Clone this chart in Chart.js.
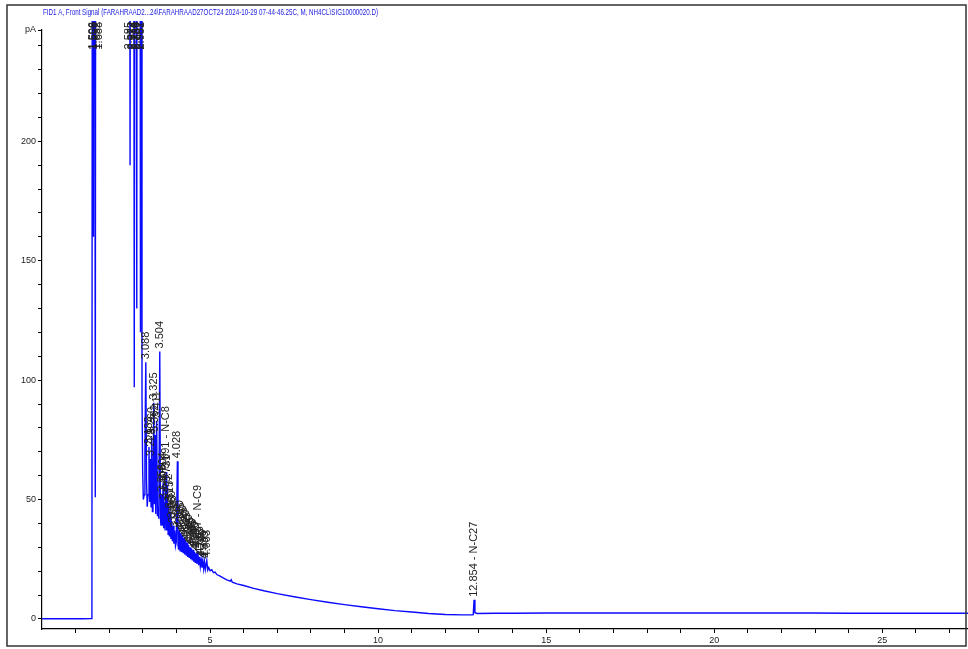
<!DOCTYPE html>
<html>
<head>
<meta charset="utf-8">
<title>FID1 A, Front Signal</title>
<script src="https://cdn.jsdelivr.net/npm/chart.js@4.4.1/dist/chart.umd.min.js"></script>
<style>
  html, body { margin: 0; padding: 0; background: #ffffff; }
  #wrap { width: 968px; height: 649px; }
</style>
</head>
<body>
<div id="wrap"><canvas id="chart" width="968" height="649"></canvas></div>
<script>
// Retention time (min) of every sampled point of the FID trace
const times = [
  0.00, 0.30, 0.60, 0.90, 1.20, 1.47, 1.485,
  1.506, 1.530, 1.559, 1.585, 1.610, 1.632, 1.688,
  2.000, 2.400, 2.585, 2.620, 2.650, 2.672, 2.714, 2.745, 2.775, 2.796, 2.820,
  2.839, 2.870, 2.902, 2.930, 2.951, 2.975, 2.995, 3.015, 3.040, 3.062,
  3.088, 3.110, 3.130, 3.155, 3.183, 3.205, 3.229, 3.245, 3.260, 3.285, 3.302,
  3.325, 3.345, 3.362, 3.385, 3.411, 3.435, 3.455, 3.475, 3.504, 3.525, 3.540,
  3.558, 3.578, 3.604, 3.622, 3.640, 3.662, 3.691, 3.710, 3.731, 3.752, 3.772,
  3.792, 3.815, 3.835, 3.860, 3.880, 3.905, 3.925, 3.950, 3.972, 3.995, 4.028,
  4.046, 4.065, 4.090, 4.110, 4.135, 4.155, 4.180, 4.200, 4.225, 4.245, 4.270,
  4.290, 4.315, 4.335, 4.360, 4.380, 4.405, 4.425, 4.450, 4.470, 4.495, 4.515,
  4.540, 4.560, 4.585, 4.610, 4.637, 4.660, 4.685, 4.710, 4.735, 4.760, 4.785,
  4.810, 4.835, 4.860, 4.903, 4.930, 4.960, 5.000, 5.050, 5.100, 5.150, 5.200,
  5.300, 5.400, 5.500, 5.600, 5.630, 5.660, 5.800, 6.000, 6.300, 6.600, 7.000,
  7.500, 8.000, 8.500, 9.000, 9.500, 10.000, 10.500, 11.000, 11.500, 12.000,
  12.500, 12.800, 12.830, 12.854, 12.880, 12.950, 13.500, 14.000, 15.000,
  16.000, 17.000, 18.000, 19.000, 20.000, 21.000, 22.000, 23.000, 24.000,
  25.000, 26.000, 27.000, 27.550
];

// Detector response (pA) at each of those times; solvent peaks run far off scale
const signal = [
  0.1, 0.1, 0.1, 0.1, 0.1, 0.2, 0.5,
  600, 160, 600, 51, 600, 600, 600,
  600, 600, 600, 190, 600, 600, 600, 97, 600, 600, 130,
  600, 600, 600, 120, 600, 93, 62, 50, 52, 70,
  107.5, 58, 47, 52, 72, 49, 67, 47, 76, 45, 51,
  90.5, 48, 77, 44, 83, 43, 47, 42, 112, 42, 39,
  52, 39, 57, 38, 49, 37, 61.5, 37, 56, 35.5, 48,
  34.5, 45, 33.5, 41, 32.5, 39, 31.5, 37, 30.5, 32, 66,
  31, 29, 37, 28.5, 36, 28, 35, 27.5, 34, 27, 33,
  26.5, 32, 26, 31, 25.5, 30, 25, 29.5, 24.5, 29, 24,
  28, 23.5, 27.5, 23, 28.5, 22.5, 26, 22, 25, 21.5, 24.5,
  21, 24, 20.8, 24.5, 20.5, 21.5, 20.2, 20.6, 19.4, 19.6, 18.6,
  17.9, 17.1, 16.4, 15.8, 16.4, 15.4, 14.7, 14.0, 12.8, 11.8, 10.6,
  9.3, 8.1, 7.0, 6.0, 5.1, 4.3, 3.5, 2.9, 2.3, 1.9,
  1.7, 1.7, 1.8, 8.0, 2.6, 2.3, 2.4, 2.4, 2.5,
  2.5, 2.5, 2.5, 2.5, 2.5, 2.5, 2.5, 2.5, 2.4,
  2.4, 2.4, 2.4, 2.4
];

// Integrated peaks: apex retention times and compound names (blank if unnamed)
const peakTimes = [
  1.506, 1.559, 1.632, 1.688,
  2.585, 2.672, 2.714, 2.796, 2.839, 2.902, 2.951,
  3.088, 3.183, 3.229, 3.260, 3.325, 3.362, 3.411, 3.504,
  3.558, 3.604, 3.640, 3.691, 3.731, 3.772, 3.815, 3.860, 3.905, 3.950,
  4.028, 4.090, 4.135, 4.180, 4.225, 4.270, 4.315, 4.360, 4.405, 4.450,
  4.495, 4.540, 4.585, 4.637, 4.685, 4.735, 4.785, 4.835, 4.903,
  12.854
];
const peakNames = [
  '', '', '', '',
  '', '', '', '', '', '', '',
  '', '', '', '', '', '', '', '',
  '', '', '', 'N-C8', '', '', '', '', '', '',
  '', '', '', '', '', '', '', '', '', '',
  '', '', '', 'N-C9', '', '', '', '', '',
  'N-C27'
];

// Axis ticks
const xTickValues = [1, 2, 3, 4, 5, 6, 7, 8, 9, 10, 11, 12, 13, 14, 15, 16, 17, 18, 19, 20, 21, 22, 23, 24, 25, 26, 27];
const xLabelValues = [5, 10, 15, 20, 25];
const yTickValues = [0, 10, 20, 30, 40, 50, 60, 70, 80, 90, 100, 110, 120, 130, 140, 150, 160, 170, 180, 190, 200, 210, 220, 230, 240];
const yLabelValues = [0, 50, 100, 150, 200];
const X_MIN = 0, X_MAX = 27.55;
const Y_MIN = -4.2, Y_MAX = 246.6;
const Y_UNIT = 'pA';

const titleText = 'FID1 A, Front Signal (FARAHRAAD2...24\\FARAHRAAD27OCT24 2024-10-29 07-44-46.25C, M, NH4CL\\SIG10000020.D)';

const tickFont = { family: "'Liberation Sans Narrow', 'Liberation Sans', Arial, sans-serif", size: 9 };

// Outer frame and the condensed blue signal description
const framePlugin = {
  id: 'frame',
  afterDraw(chart) {
    const ctx = chart.ctx;
    ctx.save();
    ctx.strokeStyle = '#333';
    ctx.lineWidth = 1.5;
    ctx.strokeRect(7, 5, 959, 641);
    ctx.font = "9px 'Liberation Sans', Arial, sans-serif";
    ctx.fillStyle = '#2020e0';
    ctx.textBaseline = 'middle';
    const w = ctx.measureText(titleText).width;
    const sx = 335 / w;
    ctx.translate(43, 13);
    ctx.scale(sx, 1);
    ctx.fillText(titleText, 0, 0);
    ctx.restore();
  }
};

// Vertical retention-time labels above each integrated peak
const LABEL_TOP = 22;
const peakLabelPlugin = {
  id: 'peakLabels',
  afterDatasetsDraw(chart) {
    const { ctx, scales: { x, y } } = chart;
    ctx.save();
    ctx.font = "11px 'Liberation Sans', Arial, sans-serif";
    ctx.fillStyle = '#222';
    ctx.textBaseline = 'middle';
    ctx.textAlign = 'left';
    peakTimes.forEach((t, i) => {
      const idx = times.indexOf(t);
      const v = signal[idx];
      const text = t.toFixed(3) + (peakNames[i] ? ' - ' + peakNames[i] : '');
      const w = ctx.measureText(text).width;
      const px = x.getPixelForValue(t);
      const py = Math.max(y.getPixelForValue(v) - 3, LABEL_TOP + w);
      ctx.save();
      ctx.translate(px, py);
      ctx.rotate(-Math.PI / 2);
      ctx.fillText(text, 0, 0);
      ctx.restore();
    });
    ctx.restore();
  }
};

new Chart(document.getElementById('chart'), {
  type: 'line',
  data: {
    datasets: [{
      data: times.map((t, i) => ({ x: t, y: signal[i] })),
      borderColor: '#0a0aff',
      borderWidth: 1.4,
      pointRadius: 0,
      tension: 0,
      fill: false,
      clip: { left: 0, top: 9, right: 2, bottom: 0 }
    }]
  },
  options: {
    responsive: false,
    animation: false,
    devicePixelRatio: 1,
    layout: { padding: { top: 30, left: 0, right: 0, bottom: 0 } },
    plugins: { legend: { display: false }, tooltip: { enabled: false }, title: { display: false } },
    scales: {
      x: {
        type: 'linear',
        min: X_MIN,
        max: X_MAX,
        afterBuildTicks(scale) { scale.ticks = xTickValues.map(v => ({ value: v })); },
        afterFit(scale) { scale.height = 20; },
        ticks: {
          autoSkip: false,
          maxRotation: 0,
          padding: 2,
          color: '#222',
          font: tickFont,
          callback: (v) => xLabelValues.includes(v) ? String(v) : ''
        },
        grid: { drawOnChartArea: false, drawTicks: true, tickLength: 4, color: '#000', tickWidth: 1 },
        border: { display: true, color: '#000', width: 1.2 }
      },
      y: {
        type: 'linear',
        min: Y_MIN,
        max: Y_MAX,
        afterBuildTicks(scale) {
          scale.ticks = yTickValues.map(v => ({ value: v })).concat([{ value: Y_MAX }]);
        },
        afterFit(scale) { scale.width = 42; },
        ticks: {
          autoSkip: false,
          padding: 2,
          color: '#222',
          font: tickFont,
          callback: (v) => v === Y_MAX ? Y_UNIT : (yLabelValues.includes(v) ? String(v) : '')
        },
        grid: { drawOnChartArea: false, drawTicks: true, tickLength: 4, color: '#000', tickWidth: 1 },
        border: { display: true, color: '#000', width: 1.2 }
      }
    }
  },
  plugins: [peakLabelPlugin, framePlugin]
});
</script>
</body>
</html>
